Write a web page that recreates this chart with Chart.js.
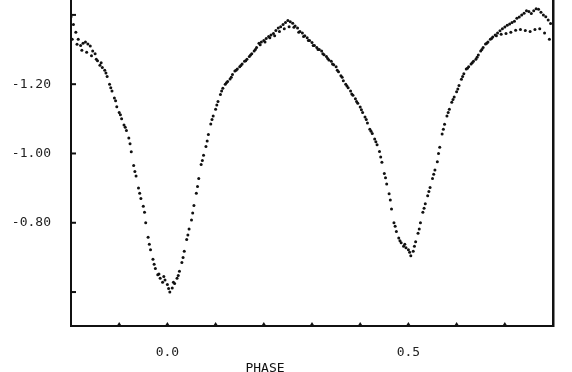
<!DOCTYPE html>
<html lang="en">
<head>
    <meta charset="UTF-8">
    <title>Light curve</title>
    <script src="https://cdn.jsdelivr.net/npm/chart.js"></script>
    <style>
        body { margin: 0; background: #fff; }
        #wrap { width: 572px; height: 372px; }
    </style>
</head>
<body>
    <div id="wrap"><canvas id="lc" width="572" height="372"></canvas></div>
    <script>
        // run A: phase steps of 0.005
        const phaseA = [];
        for (let i = 0; i < 200; i++) phaseA.push(+(-0.2 + i * 0.005).toFixed(3));
        const magA = [
            -1.395, -1.372, -1.350, -1.330, -1.312, -1.318, -1.322, -1.316, -1.310, -1.296,
            -1.288, -1.268, -1.255, -1.248, -1.240, -1.222, -1.200, -1.180, -1.160, -1.135,
            -1.118, -1.100, -1.082, -1.066, -1.045, -1.005, -0.965, -0.935, -0.900, -0.870,
            -0.848, -0.800, -0.758, -0.722, -0.695, -0.668, -0.650, -0.640, -0.628, -0.635,
            -0.622, -0.600, -0.612, -0.625, -0.640, -0.660, -0.685, -0.718, -0.752, -0.782,
            -0.808, -0.850, -0.885, -0.928, -0.968, -0.995, -1.020, -1.055, -1.085, -1.108,
            -1.128, -1.150, -1.170, -1.188, -1.200, -1.208, -1.215, -1.228, -1.238, -1.244,
            -1.250, -1.258, -1.266, -1.272, -1.280, -1.288, -1.296, -1.306, -1.318, -1.322,
            -1.326, -1.332, -1.338, -1.342, -1.346, -1.355, -1.362, -1.366, -1.372, -1.378,
            -1.384, -1.380, -1.376, -1.368, -1.362, -1.352, -1.348, -1.340, -1.334, -1.326,
            -1.320, -1.312, -1.306, -1.300, -1.296, -1.285, -1.280, -1.270, -1.266, -1.256,
            -1.250, -1.236, -1.224, -1.210, -1.200, -1.190, -1.180, -1.168, -1.158, -1.145,
            -1.134, -1.118, -1.105, -1.088, -1.070, -1.058, -1.042, -1.025, -1.006, -0.975,
            -0.942, -0.912, -0.884, -0.840, -0.800, -0.775, -0.756, -0.742, -0.732, -0.728,
            -0.722, -0.705, -0.718, -0.745, -0.770, -0.800, -0.830, -0.855, -0.878, -0.902,
            -0.928, -0.952, -0.976, -1.018, -1.056, -1.084, -1.108, -1.128, -1.148, -1.163,
            -1.178, -1.196, -1.214, -1.230, -1.244, -1.250, -1.258, -1.266, -1.272, -1.284,
            -1.296, -1.306, -1.316, -1.322, -1.330, -1.336, -1.342, -1.348, -1.354, -1.360,
            -1.365, -1.370, -1.374, -1.378, -1.382, -1.390, -1.394, -1.400, -1.405, -1.412,
            -1.410, -1.404, -1.412, -1.418, -1.416, -1.408, -1.400, -1.395, -1.385, -1.375
        ];

        // run B: phase steps of 0.01, offset 0.0025
        const phaseB = [];
        for (let i = 0; i < 100; i++) phaseB.push(+(-0.1975 + i * 0.01).toFixed(4));
        const magB = [
            -1.330, -1.315, -1.298, -1.292, -1.282, -1.272, -1.262, -1.232, -1.190, -1.152,
            -1.112, -1.076, -1.028, -0.948, -0.885, -0.830, -0.738, -0.680, -0.652, -0.645,
            -0.610, -0.628, -0.648, -0.700, -0.765, -0.828, -0.905, -0.980, -1.036, -1.098,
            -1.140, -1.180, -1.204, -1.220, -1.240, -1.254, -1.268, -1.284, -1.300, -1.314,
            -1.322, -1.334, -1.340, -1.352, -1.360, -1.366, -1.364, -1.350, -1.338, -1.326,
            -1.312, -1.300, -1.288, -1.274, -1.258, -1.240, -1.220, -1.195, -1.172, -1.150,
            -1.126, -1.098, -1.064, -1.034, -0.990, -0.930, -0.866, -0.790, -0.748, -0.738,
            -0.715, -0.732, -0.782, -0.842, -0.890, -0.940, -1.000, -1.070, -1.118, -1.156,
            -1.186, -1.222, -1.246, -1.262, -1.278, -1.300, -1.318, -1.332, -1.340, -1.344,
            -1.346, -1.350, -1.356, -1.358, -1.355, -1.352, -1.358, -1.360, -1.348, -1.330
        ];

        const xLabelTicks = [0.0, 0.5];
        const xMarkTicks = [-0.1, 0.0, 0.1, 0.2, 0.3, 0.4, 0.5, 0.6, 0.7];
        const yLabelTicks = [-1.2, -1.0, -0.8];
        const yMarkTicks = [-1.4, -1.2, -1.0, -0.8, -0.6];

        const tickFont = { family: 'DejaVu Sans Mono', size: 13 };

        // small inward tick marks and the axis title
        const marksPlugin = {
            id: 'marks',
            afterDraw(chart) {
                const c = chart.ctx;
                const xs = chart.scales.x, ys = chart.scales.y;
                const bottom = chart.chartArea.bottom, left = chart.chartArea.left;
                c.save();
                c.fillStyle = '#111';
                xMarkTicks.forEach(v => {
                    const px = xs.getPixelForValue(v);
                    c.beginPath();
                    c.moveTo(px - 2.5, bottom);
                    c.lineTo(px + 2.5, bottom);
                    c.lineTo(px, bottom - 4);
                    c.closePath();
                    c.fill();
                });
                c.strokeStyle = '#111';
                c.lineWidth = 2;
                yMarkTicks.forEach(v => {
                    const py = ys.getPixelForValue(v);
                    c.beginPath();
                    c.moveTo(left, py);
                    c.lineTo(left + 5, py);
                    c.stroke();
                });
                c.font = '13px "DejaVu Sans Mono"';
                c.textAlign = 'center';
                c.textBaseline = 'top';
                c.fillText('PHASE', 265, 362);
                c.restore();
            }
        };

        const noPad = s => { s.paddingTop = 0; s.paddingBottom = 0; };

        const ctx = document.getElementById('lc').getContext('2d');
        new Chart(ctx, {
            type: 'scatter',
            data: {
                datasets: [
                    {
                        label: 'A',
                        data: phaseA.map((p, i) => ({ x: p, y: magA[i] })),
                        backgroundColor: '#111',
                        borderWidth: 0,
                        pointRadius: 1.5
                    },
                    {
                        label: 'B',
                        data: phaseB.map((p, i) => ({ x: p, y: magB[i] })),
                        backgroundColor: '#111',
                        borderWidth: 0,
                        pointRadius: 1.5
                    }
                ]
            },
            options: {
                responsive: false,
                devicePixelRatio: 1,
                animation: false,
                layout: { padding: 0, autoPadding: false },
                plugins: { legend: { display: false }, tooltip: { enabled: false } },
                scales: {
                    x: {
                        type: 'linear',
                        min: -0.2,
                        max: 0.8,
                        afterBuildTicks: s => { s.ticks = xLabelTicks.map(v => ({ value: v })); },
                        afterFit: s => { s.height = 46; s.paddingLeft = 0; s.paddingRight = 0; },
                        ticks: {
                            padding: 19,
                            color: '#222',
                            font: tickFont,
                            callback: v => v.toFixed(1)
                        },
                        grid: { display: false, drawTicks: false },
                        border: { display: true, color: '#111', width: 2 }
                    },
                    y: {
                        type: 'linear',
                        reverse: true,
                        min: -1.443,
                        max: -0.502,
                        afterBuildTicks: s => { s.ticks = yLabelTicks.map(v => ({ value: v })); },
                        afterFit: s => { s.width = 71; noPad(s); },
                        ticks: {
                            padding: 20,
                            color: '#222',
                            font: tickFont,
                            callback: v => v.toFixed(2)
                        },
                        grid: { display: false, drawTicks: false },
                        border: { display: true, color: '#111', width: 2 }
                    },
                    y2: {
                        type: 'linear',
                        position: 'right',
                        min: 0,
                        max: 1,
                        afterFit: s => { s.width = 19; noPad(s); },
                        ticks: { display: false },
                        grid: { display: false, drawTicks: false },
                        border: { display: true, color: '#111', width: 2.5 }
                    }
                }
            },
            plugins: [marksPlugin]
        });
    </script>
</body>
</html>
